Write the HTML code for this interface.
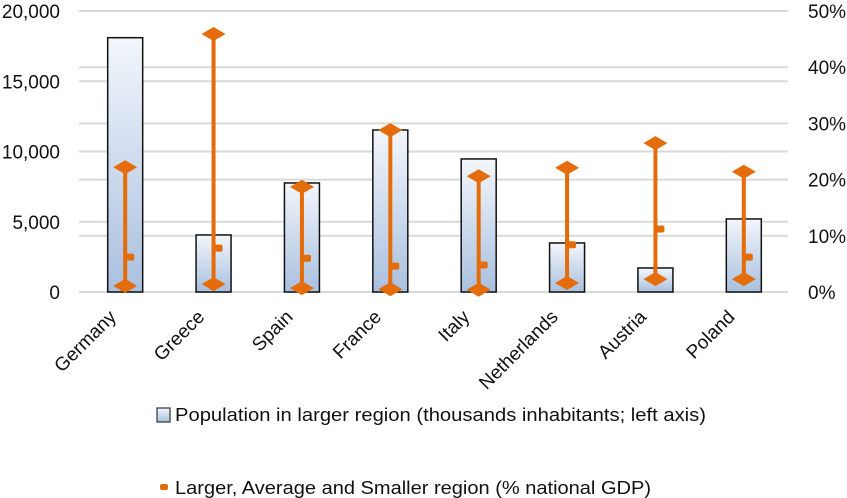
<!DOCTYPE html>
<html><head><meta charset="utf-8"><style>
body{margin:0;background:#fff;}
svg{display:block;font-family:"Liberation Sans",Arial,sans-serif;}
</style></head><body>
<svg id="chart" width="847" height="498" viewBox="0 0 847 498">
<defs>
<linearGradient id="barg" x1="0" y1="0" x2="0" y2="1">
<stop offset="0" stop-color="#f3f6fb"/><stop offset="1" stop-color="#a9c0df"/>
</linearGradient>
</defs>
<g id="grid"></g>
<g id="yl"></g>
<g id="yr"></g>
<g id="bars"></g>
<g id="errs"></g>
<g id="xl"></g>
<g>
<rect x="157" y="408" width="13" height="14" fill="url(#barg)" stroke="#333" stroke-width="1.2"/>
<text x="175" y="421" font-size="18" textLength="531" lengthAdjust="spacingAndGlyphs" fill="#111">Population in larger region (thousands inhabitants; left axis)</text>
<rect x="160" y="484" width="8" height="6" rx="2" fill="#e46c0a"/>
<text x="175" y="494" font-size="18" textLength="476" lengthAdjust="spacingAndGlyphs" fill="#111">Larger, Average and Smaller region (% national GDP)</text>
</g>
</svg>
<script>
const categories=["Germany","Greece","Spain","France","Italy","Netherlands","Austria","Poland"];
const population=[18100,4060,7760,11530,9470,3490,1710,5200];
const gdpHigh=[22.2,45.9,18.7,28.8,20.6,22.1,26.5,21.4];
const gdpAvg=[6.2,7.8,6.0,4.6,4.8,8.4,11.2,6.2];
const gdpLow=[1.1,1.4,0.7,0.5,0.4,1.6,2.3,2.3];
const leftTicks=[0,5000,10000,15000,20000];
const leftTickLabels=["0","5,000","10,000","15,000","20,000"];
const rightTicks=[0,10,20,30,40,50];
const rightTickLabels=["0%","10%","20%","30%","40%","50%"];
const NS="http://www.w3.org/2000/svg";
const X0=81,X1=788,Y0=292,Y1=11;
const yL=v=>Y0-(v/20000)*(Y0-Y1);
const yR=v=>Y0-(v/50)*(Y0-Y1);
const band=(X1-X0)/categories.length;
const xC=i=>X0+band*(i+0.5);
function mk(tag,attrs,parent){const e=document.createElementNS(NS,tag);for(const k in attrs)e.setAttribute(k,attrs[k]);parent.appendChild(e);return e;}
const grid=document.getElementById('grid'),yl=document.getElementById('yl'),yr=document.getElementById('yr');
leftTicks.forEach((t,i)=>{
 const l=mk('line',{x1:X0-2,x2:X1,y1:yL(t),y2:yL(t),stroke:'#d9d9d9','stroke-width':2},grid);
 
 
 const tx=mk('text',{x:60,y:yL(t)+7,'text-anchor':'end','font-size':19,fill:'#111'},yl);
 tx.textContent=leftTickLabels[i];
 
 
});
rightTicks.forEach((t,i)=>{
 const l=mk('line',{x1:X0-2,x2:X1,y1:yR(t),y2:yR(t),stroke:'#d9d9d9','stroke-width':2},grid);
 
 
 const tx=mk('text',{x:808,y:yR(t)+7,'font-size':19,fill:'#111'},yr);
 tx.textContent=rightTickLabels[i];
 
 
});
const bars=document.getElementById('bars'),errs=document.getElementById('errs'),xl=document.getElementById('xl');
const bw=35;
categories.forEach((c,i)=>{
 const cx=xC(i);
 const b=mk('rect',{x:cx-bw/2,y:yL(population[i]),width:bw,height:Y0-yL(population[i]),fill:'url(#barg)',stroke:'#111','stroke-width':1.5},bars);
 
 
 const g=mk('g',{},errs);
 
 
 mk('line',{x1:cx,x2:cx,y1:yR(gdpHigh[i]),y2:yR(gdpLow[i]),stroke:'#e46c0a','stroke-width':4},g);
 [gdpHigh[i],gdpLow[i]].forEach(v=>{const y=yR(v);mk('polygon',{points:`${cx-12},${y} ${cx},${y-7} ${cx+12},${y} ${cx},${y+7}`,fill:'#e46c0a'},g);});
 mk('rect',{x:cx,y:yR(gdpAvg[i])-3.5,width:9,height:7,rx:2,fill:'#e46c0a'},g);
 const t=mk('text',{transform:`translate(${cx-8},${318}) rotate(-45)`,'text-anchor':'end','font-size':19,fill:'#111'},xl);
 t.textContent=c;
 
 
});
</script>
</body></html>
